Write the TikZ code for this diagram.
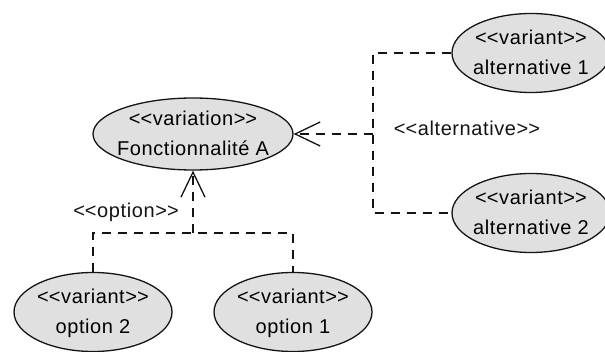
\documentclass[tikz,border=0pt]{standalone}
\usepackage{fontspec}
\setmainfont{Liberation Sans}[LetterSpace=3]
\usepackage{tikz}
\usetikzlibrary{arrows.meta,shapes.geometric}
\definecolor{Ink}{HTML}{141414}
\definecolor{CaseFill}{HTML}{E0E0E0}
\newcommand{\stereo}[1]{<\kern0pt<#1>\kern0pt>}
\newcommand{\uctext}[2]{\makebox[0pt]{\raisebox{-6pt}[0pt][0pt]{\begin{tabular}{@{}c@{}}\stereo{#1}\\#2\end{tabular}}}}

\begin{document}
\begin{tikzpicture}[x=1pt,y=-1pt,
  usecase/.style={ellipse,draw=Ink,line width=1.3pt,fill=CaseFill,inner sep=0pt,
    minimum width=158pt,minimum height=79pt,font=\fontsize{20}{30}\selectfont},
  dep/.style={Ink,line width=1.3pt,dash pattern=on 9pt off 7pt},
  openhead/.style={-{Straight Barb[length=25pt,width=24pt,line width=1.3pt]}},
  lbl/.style={font=\fontsize{20}{24}\selectfont,text=Ink}]
  \useasboundingbox (0,0) rectangle (605,352);
  \node[usecase,minimum width=200pt,minimum height=72pt] (fa) at (193,134) {\uctext{variation}{Fonctionnalité A}};
  \node[usecase] (alt1) at (531,53) {\uctext{variant}{alternative 1}};
  \node[usecase] (alt2) at (531,213) {\uctext{variant}{alternative 2}};
  \node[usecase] (opt2) at (93,312) {\uctext{variant}{option 2}};
  \node[usecase] (opt1) at (293,312) {\uctext{variant}{option 1}};
  \coordinate (altj) at (373,134);
  \coordinate (optj) at (193,233);
  \draw[dep] (alt1.west) -| (altj) |- (alt2.west);
  \draw[dep,openhead] (altj) -- (fa.east);
  \draw[dep] (opt2.north) |- (optj) -| (opt1.north);
  \draw[dep,openhead] (optj) -- (fa.south);
  \node[lbl] (altlbl) at (467,128) {\stereo{alternative}};
  \node[lbl] (optlbl) at (126,212) {\stereo{option}};
\end{tikzpicture}
\end{document}
